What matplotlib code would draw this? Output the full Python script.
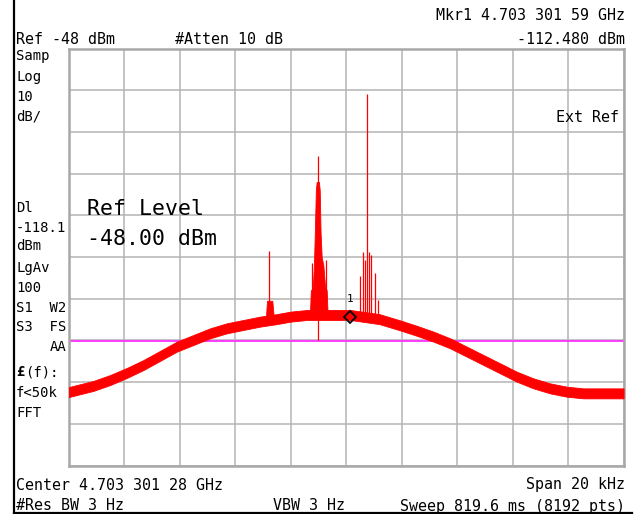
import numpy as np
import matplotlib
matplotlib.use('Agg')
import matplotlib.pyplot as plt
from matplotlib.lines import Line2D

plt.rcParams['font.family'] = ['DejaVu Sans Mono']

# values (offset from center in kHz, level in dBm)
base_khz = [-10.0, -9.1, -8.5, -7.9, -7.3, -6.7, -6.1, -5.5, -4.9, -4.3, -3.7, -3.1,
            -2.5, -2.0, -1.4, -0.5, 0.15, 1.2, 1.95, 2.55, 3.15, 3.75, 4.35, 4.95,
            5.55, 6.15, 6.75, 7.35, 7.95, 8.55, 9.15, 10.0]
base_dbm = [-130.4, -128.9, -127.5, -125.8, -123.9, -121.7, -119.5, -117.9, -116.3,
            -115.1, -114.3, -113.5, -112.9, -112.3, -111.9, -111.9, -111.9, -112.9,
            -114.4, -115.7, -117.1, -118.7, -120.7, -122.7, -124.7, -126.7, -128.3,
            -129.5, -130.3, -130.7, -130.7, -130.7]
noise_pp = 2.4  # peak-to-peak thickness of the trace band, dB

cluster_khz = [-1.30, -1.27, -1.20, -1.16, -1.13, -1.09, -1.06, -1.03, -0.98, -0.95,
               -0.92, -0.88, -0.82, -0.76, -0.70, -0.67]
cluster_dbm = [-111, -106, -105.5, -100, -93, -82, -80, -80, -80, -82,
               -92, -98, -100, -105, -106, -111]

bump_khz = [-2.88, -2.85, -2.66, -2.62]
bump_dbm = [-111.5, -108.5, -108.5, -111.5]

spike_khz = [-2.78, -1.24, -1.01, -0.72, 0.50, 0.62, 0.69, 0.77, 0.83, 0.89, 1.05, 1.16]
spike_dbm = [-96.5, -99.4, -73.8, -98.7, -102.6, -96.7, -98.7, -58.9, -96.7, -97.5,
             -101.9, -108.3]

dip_khz = [-1.01]
dip_dbm = [-118.0]

ref_level = -48.0
display_line = -118.1
mkr_khz = 0.155
mkr_dbm = -112.48

W, H = 640, 514
fig = plt.figure(figsize=(W / 100, H / 100), dpi=100)
fig.patch.set_facecolor('white')


def px(x, y):
    return x / W, 1 - y / H


# plot area in pixels: x 68.6..623.6, y 48.5..465.5
ax = fig.add_axes([68.6 / W, 1 - 465.5 / H, 555 / W, 417 / H])
ax.set_xlim(-10, 10)
ax.set_ylim(ref_level - 100, ref_level)
ax.set_xticks(np.arange(-10, 11, 2))
ax.set_yticks(np.arange(ref_level - 100, ref_level + 1, 10))
ax.tick_params(length=0, labelbottom=False, labelleft=False)
ax.grid(True, color='#b4b4b4', linewidth=1.1)
for s in ax.spines.values():
    s.set_color('#a8a8a8')
    s.set_linewidth(1.8)

red = '#ff0000'
base = np.array(base_dbm)
ax.fill_between(base_khz, base - noise_pp / 2, base + noise_pp / 2,
                color=red, linewidth=0.6, zorder=3)
ax.fill_between(cluster_khz, np.interp(cluster_khz, base_khz, base_dbm), cluster_dbm,
                color=red, linewidth=0.6, zorder=3)
ax.fill_between(bump_khz, np.interp(bump_khz, base_khz, base_dbm), bump_dbm,
                color=red, linewidth=0.6, zorder=3)
ax.vlines(spike_khz, np.interp(spike_khz, base_khz, base_dbm), spike_dbm,
          color=red, linewidth=0.9, zorder=3)
ax.vlines(dip_khz, dip_dbm, np.interp(dip_khz, base_khz, base_dbm),
          color=red, linewidth=0.9, zorder=3)

ax.axhline(display_line, color='#ff30ff', linewidth=1.3, zorder=2)

ax.plot([mkr_khz], [mkr_dbm], marker='D', markersize=6.5, markerfacecolor='none',
        markeredgecolor='black', markeredgewidth=1.3, zorder=5)
ax.text(mkr_khz, mkr_dbm + 3.3, '1', ha='center', va='bottom', fontsize=8,
        color='black', zorder=5)

# screen frame lines
fig.add_artist(Line2D([14 / W, 14 / W], [0, 1], color='black', linewidth=1.6,
                      transform=fig.transFigure))
fig.add_artist(Line2D([14 / W, 632 / W], [1 - 512.5 / H, 1 - 512.5 / H],
                      color='black', linewidth=1.6, transform=fig.transFigure))

fs = 10.8
fs_panel = 10
# header
fig.text(*px(625, 16), 'Mkr1 4.703 301 59 GHz', ha='right', va='center', fontsize=fs)
fig.text(*px(16, 39), 'Ref -48 dBm', ha='left', va='center', fontsize=fs)
fig.text(*px(175, 39), '#Atten 10 dB', ha='left', va='center', fontsize=fs)
fig.text(*px(625, 39), '-112.480 dBm', ha='right', va='center', fontsize=fs)

# left side panel
left_lines = [('Samp', 56), ('Log', 77), ('10', 97), ('dB/', 117), ('Dl', 208),
              ('-118.1', 228), ('dBm', 246), ('LgAv', 268), ('100', 288),
              ('S1  W2', 308), ('S3  FS', 327)]
for txt, yy in left_lines:
    fig.text(*px(16, yy), txt, ha='left', va='center', fontsize=fs_panel)
fig.text(*px(66, 347), 'AA', ha='right', va='center', fontsize=fs_panel)
fig.text(*px(16, 372), '\u00a3', ha='left', va='center', fontsize=fs_panel,
         fontweight='bold')
fig.text(*px(25, 372), '(f):', ha='left', va='center', fontsize=fs_panel)
fig.text(*px(16, 393), 'f<50k', ha='left', va='center', fontsize=fs_panel)
fig.text(*px(16, 413), 'FFT', ha='left', va='center', fontsize=fs_panel)

fig.text(*px(619, 118), 'Ext Ref', ha='right', va='center', fontsize=fs)

# big ref level annotation
fig.text(*px(87, 209), 'Ref Level', ha='left', va='center', fontsize=15.5)
fig.text(*px(87, 239), '-48.00 dBm', ha='left', va='center', fontsize=15.5)

# footer
fig.text(*px(16, 485), 'Center 4.703 301 28 GHz', ha='left', va='center', fontsize=fs)
fig.text(*px(625, 485), 'Span 20 kHz', ha='right', va='center', fontsize=fs)
fig.text(*px(16, 506), '#Res BW 3 Hz', ha='left', va='center', fontsize=fs)
fig.text(*px(273, 506), 'VBW 3 Hz', ha='left', va='center', fontsize=fs)
fig.text(*px(625, 506), 'Sweep 819.6 ms (8192 pts)', ha='right', va='center', fontsize=fs)

fig.savefig('out.png', dpi=100)
